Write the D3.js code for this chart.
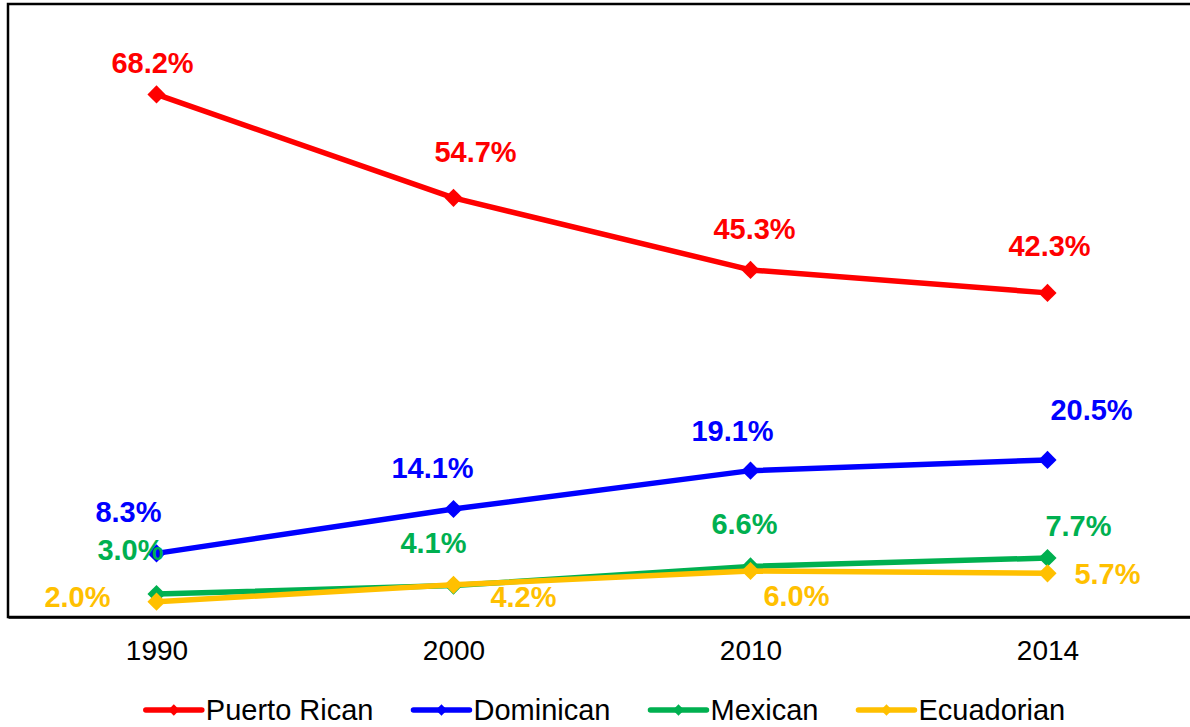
<!DOCTYPE html>
<html>
<head>
<meta charset="utf-8">
<script src="https://cdn.jsdelivr.net/npm/d3@7"></script>
<style>
  html, body { margin: 0; padding: 0; background: #fff; }
  svg { display: block; font-family: "Liberation Sans", Arial, sans-serif; }
</style>
</head>
<body>
<svg id="chart" width="1190" height="727"></svg>
<script>
// ---- data ----
const years = ["1990", "2000", "2010", "2014"];
const seriesNames = ["Puerto Rican", "Dominican", "Mexican", "Ecuadorian"];
const puertoRican = [68.2, 54.7, 45.3, 42.3];
const dominican = [8.3, 14.1, 19.1, 20.5];
const mexican = [3.0, 4.1, 6.6, 7.7];
const ecuadorian = [2.0, 4.2, 6.0, 5.7];
const seriesColors = ["#FF0000", "#0000FF", "#00B050", "#FFC000"];

// label offsets (dx = center shift, dy = baseline shift) relative to each point
const labelOffsets = [
  [[-4, -21], [22, -36], [4, -31], [2, -37]],
  [[-28, -31], [-21, -31], [-18, -30], [44, -40]],
  [[-26, -34], [-20, -33], [-6, -32], [31, -22]],
  [[-79, 5], [70, 22], [46, 35], [60, 11]]
];

const series = [puertoRican, dominican, mexican, ecuadorian].map((vals, i) => ({
  name: seriesNames[i], color: seriesColors[i], values: vals, offsets: labelOffsets[i]
}));

const svg = d3.select("#chart");
const plotLeft = 8, plotRight = 1196, plotTop = 4, plotBottom = 617;

const x = d3.scalePoint().domain(years).range([plotLeft, plotRight]).padding(0.5);
const y = d3.scaleLinear().domain([0, 80]).range([plotBottom, plotTop]);

// frame
svg.append("rect")
  .attr("x", plotLeft).attr("y", plotTop)
  .attr("width", plotRight - plotLeft).attr("height", plotBottom - plotTop)
  .attr("fill", "none").attr("stroke", "#000").attr("stroke-width", 2.5);

// x axis
const xAxis = svg.append("g")
  .attr("transform", `translate(0,${plotBottom})`)
  .call(d3.axisBottom(x).tickSize(0).tickPadding(0));
xAxis.select(".domain").attr("stroke", "#000").attr("stroke-width", 2.5);
xAxis.selectAll("text")
  .attr("y", 43).attr("dy", 0)
  .attr("font-size", 28)
  .attr("font-family", "Liberation Sans, Arial, sans-serif")
  .attr("fill", "#000");

const line = d3.line().x((d, i) => x(years[i])).y(d => y(d));
const marker = d3.symbol().type(d3.symbolSquare).size(165);

// lines + markers
series.forEach(s => {
  const g = svg.append("g");
  g.append("path")
    .attr("d", line(s.values))
    .attr("fill", "none").attr("stroke", s.color)
    .attr("stroke-width", 5.5).attr("stroke-linejoin", "round");
  g.selectAll("path.m").data(s.values).join("path")
    .attr("class", "m")
    .attr("d", marker)
    .attr("transform", (d, i) => `translate(${x(years[i])},${y(d)}) rotate(45)`)
    .attr("fill", s.color);
});

// data labels
series.forEach(s => {
  svg.append("g").selectAll("text").data(s.values).join("text")
    .attr("x", (d, i) => x(years[i]) + s.offsets[i][0])
    .attr("y", (d, i) => y(d) + s.offsets[i][1])
    .attr("text-anchor", "middle")
    .attr("font-size", 29)
    .attr("font-weight", "bold")
    .attr("fill", s.color)
    .text(d => d.toFixed(1) + "%");
});

// legend
const legend = svg.append("g");
const lineLen = 56, textGap = 4, itemGap = 40, legendY = 710;
let cursor = 0;
series.forEach(s => {
  const g = legend.append("g");
  g.append("line")
    .attr("x1", 0).attr("x2", lineLen).attr("y1", 0).attr("y2", 0)
    .attr("stroke", s.color).attr("stroke-width", 5.5).attr("stroke-linecap", "round");
  g.append("path")
    .attr("d", d3.symbol().type(d3.symbolSquare).size(64)())
    .attr("transform", `translate(${lineLen / 2},0) rotate(45)`)
    .attr("fill", s.color);
  const t = g.append("text")
    .attr("x", lineLen + textGap).attr("y", 10)
    .attr("font-size", 29).attr("fill", "#000")
    .text(s.name);
  const w = lineLen + textGap + t.node().getComputedTextLength();
  g.attr("transform", `translate(${cursor},${legendY})`);
  cursor += w + itemGap;
});
const totalW = cursor - itemGap;
const legendCenter = 605.5;
legend.attr("transform", `translate(${legendCenter - totalW / 2},0)`);
</script>
</body>
</html>
